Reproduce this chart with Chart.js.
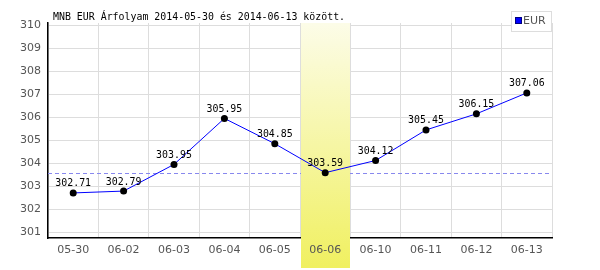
<!DOCTYPE html>
<html><head><meta charset="utf-8">
<script src="https://cdn.jsdelivr.net/npm/chart.js@4"></script>
<style>html,body{margin:0;padding:0;background:#fff}#wrap{width:600px;height:270px;position:relative}</style>
</head><body><div id="wrap"><canvas id="c" width="600" height="270"></canvas></div>
<script>
const categories = ['05-30','06-02','06-03','06-04','06-05','06-06','06-10','06-11','06-12','06-13'];
const eurValues = [302.71,302.79,303.95,305.95,304.85,303.59,304.12,305.45,306.15,307.06];
const yTicks = [301,302,303,304,305,306,307,308,309,310];
const refValue = 303.59;
const highlightIndex = 5;
const titleText = 'MNB EUR Árfolyam 2014-05-30 és 2014-06-13 között.';
const seriesName = 'EUR';
const tickFont = '11px "DejaVu Sans", sans-serif';

function narrowText(ctx, text, x, y, align){
  const sx = 0.9;
  ctx.save();
  ctx.translate(x, y); ctx.scale(sx, 1);
  ctx.textAlign = align;
  ctx.fillText(text, 0, 0);
  ctx.restore();
}

const decor = {
  id:'decor',
  beforeDatasetsDraw(chart){
    const {ctx, chartArea:a, scales:{x,y}} = chart;
    ctx.save();
    const ry = Math.round(y.getPixelForValue(refValue))+0.5;
    ctx.strokeStyle='#8888ee'; ctx.lineWidth=1; ctx.setLineDash([4,3]);
    ctx.beginPath(); ctx.moveTo(a.left,ry); ctx.lineTo(a.right,ry); ctx.stroke();
    ctx.setLineDash([]);
    const w = (a.right-a.left)/categories.length;
    const cx = x.getPixelForValue(highlightIndex);
    const x0 = Math.round(cx - w/2)+1, x1 = Math.round(cx + w/2);
    const g = ctx.createLinearGradient(0,a.top,0,268);
    g.addColorStop(0,'#fcfce8'); g.addColorStop(1,'#f0f060');
    ctx.fillStyle=g; ctx.fillRect(x0,a.top,x1-x0,268-a.top);
    ctx.fillStyle='#555'; ctx.font=tickFont; ctx.textAlign='center'; ctx.textBaseline='middle';
    ctx.fillText(categories[highlightIndex], cx, a.bottom+12);
    ctx.restore();
  },
  afterDraw(chart){
    const {ctx, scales:{x,y}} = chart;
    ctx.save();
    ctx.font='11px "DejaVu Sans Mono", monospace';
    ctx.fillStyle='#000'; ctx.textBaseline='alphabetic';
    eurValues.forEach((v,i)=>{
      narrowText(ctx, v.toFixed(2), x.getPixelForValue(i), y.getPixelForValue(v)-6.5, 'center');
    });
    narrowText(ctx, titleText, 53, 20, 'left');
    ctx.fillStyle='#fff'; ctx.fillRect(511,11,41,20);
    ctx.strokeStyle='#dddddd'; ctx.lineWidth=1; ctx.strokeRect(511.5,11.5,40,20);
    ctx.fillStyle='#000080'; ctx.fillRect(515,17,7,7);
    ctx.fillStyle='#0000ff'; ctx.fillRect(516,18,5,5);
    ctx.fillStyle='#555'; ctx.font='11px "DejaVu Sans", sans-serif';
    ctx.textBaseline='middle'; ctx.textAlign='left'; ctx.fillText(seriesName, 523, 21.5);
    ctx.restore();
  }
};

new Chart(document.getElementById('c'), {
  type:'line',
  data:{labels:categories, datasets:[{label:seriesName, data:eurValues,
    borderColor:'#0000ff', borderWidth:1, tension:0,
    pointRadius:3.5, pointBackgroundColor:'#000', pointBorderColor:'#000', pointBorderWidth:0, pointHoverRadius:3.5}]},
  options:{
    responsive:false, animation:false, events:[],
    layout:{padding:{top:23,right:48,left:0,bottom:0}},
    plugins:{legend:{display:false},tooltip:{enabled:false},title:{display:false}},
    scales:{
      x:{offset:true,
        grid:{offset:true,color:'#dddddd',drawTicks:false},
        border:{color:'#000',width:1.5},
        ticks:{color:'#555',font:{family:'"DejaVu Sans", sans-serif',size:11},padding:6,maxRotation:0,autoSkip:false},
        afterFit(s){s.height=32;}
      },
      y:{min:300.75,max:310.1,
        afterBuildTicks(s){s.ticks=yTicks.map(v=>({value:v}));},
        grid:{color:'#dddddd',drawTicks:false},
        border:{color:'#000',width:1.5},
        ticks:{color:'#555',font:{family:'"DejaVu Sans", sans-serif',size:11},padding:7,callback:v=>v},
        afterFit(s){s.width=48;}
      }
    }
  },
  plugins:[decor]
});
</script></body></html>
